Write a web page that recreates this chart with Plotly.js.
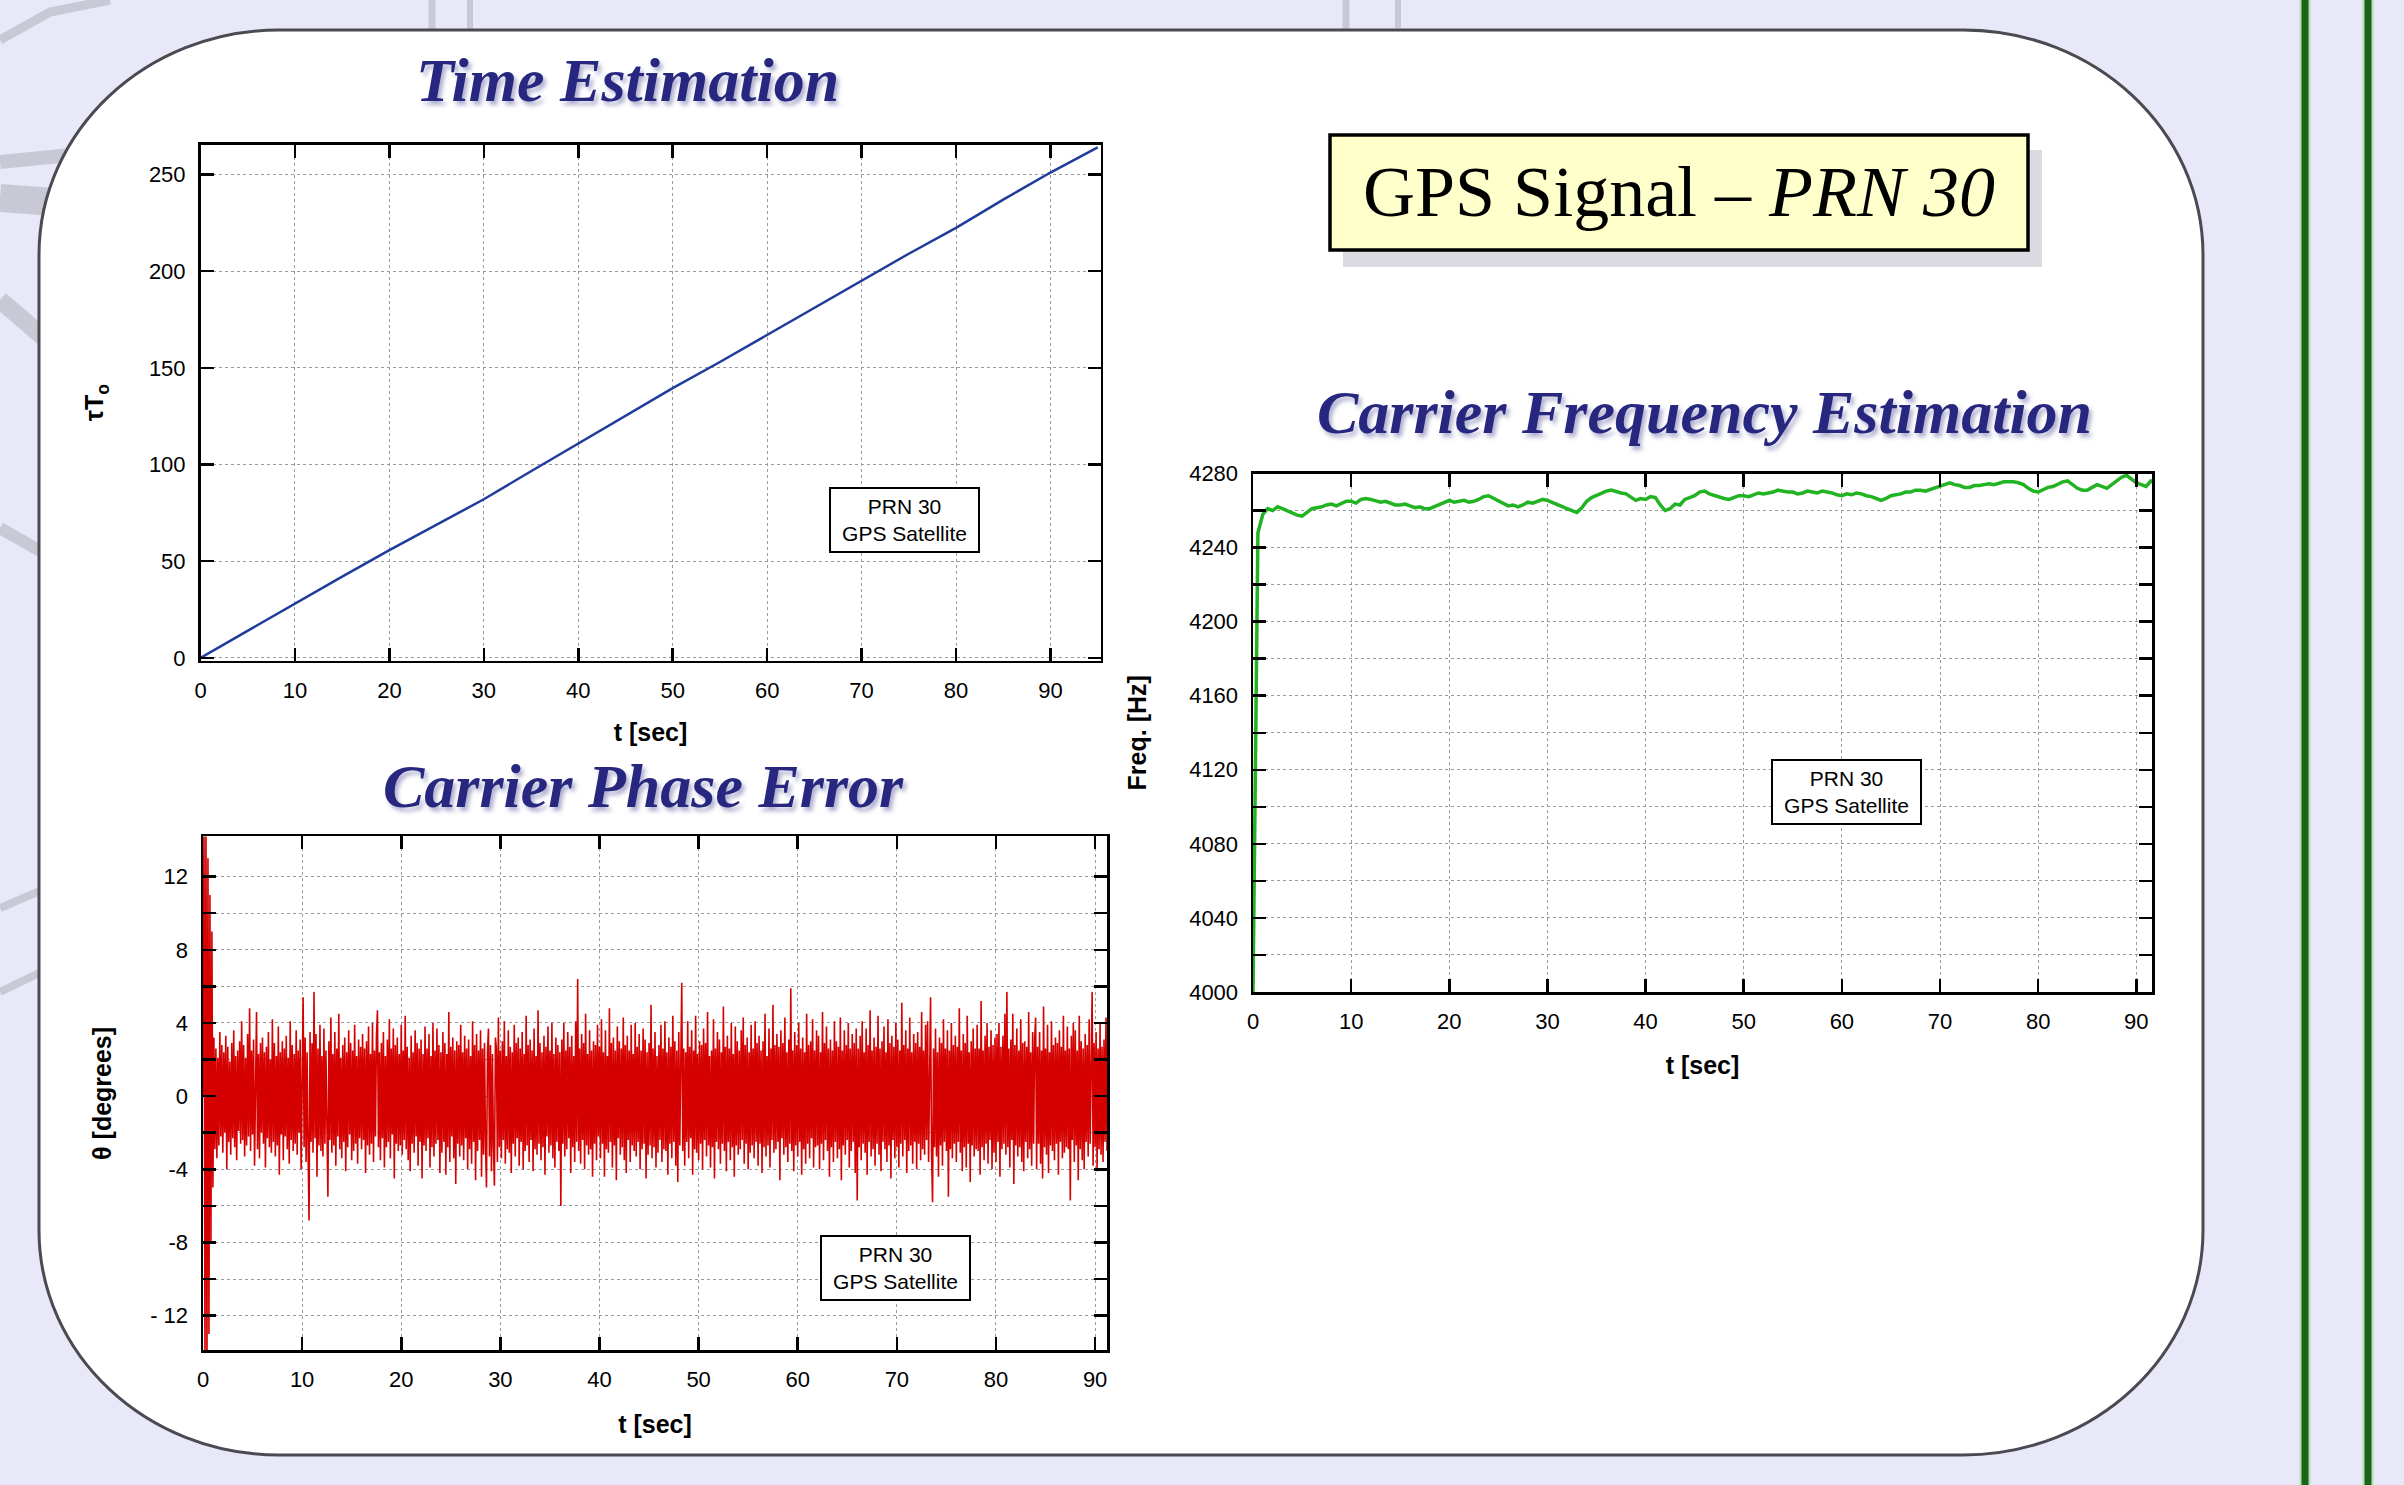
<!DOCTYPE html>
<html><head><meta charset="utf-8">
<script src="https://cdn.plot.ly/plotly-3.0.1.min.js"></script>
<style>html,body{margin:0;padding:0;background:#e8e8f9;overflow:hidden}</style>
</head><body><div id="chart" style="width:2404px;height:1485px"></div>
<script>
// ---------------- DATA ----------------
const timeT   = [0,5,10,15,20,25,30,35,40,45,50,55,60,65,70,75,80,85,90,95];
const timeTau = [0,14,28.2,42,55.7,69,82,96.5,110.9,125,139.5,153,167,181,195,209,222.4,237,251,264];

const phaseStart = 0, phaseStep = 0.1;   // sampling of the phase-error record [s]
const phaseErr = [
 0,15,-15,15,-15,13,-13,11,-8,9,-5,3.2,-2.9,2.6,-3.4,2.1,-2.7,3.5,-2.2,2.8,
 -3.1,2.4,-2.0,3.3,-4.0,2.7,-2.5,1.9,-3.2,2.9,-2.3,3.6,-2.8,2.2,-3.5,2.5,-1.9,3.0,-2.6,4.1,
 -2.4,2.8,-3.3,2.1,-2.7,3.4,-2.2,4.8,-3.0,2.5,-2.1,3.1,-3.8,2.6,4.6,-2.9,2.3,-3.4,2.9,-2.0,
 3.2,-2.6,2.4,-3.9,2.7,-2.3,3.5,-2.8,2.0,-3.1,4.2,-2.5,2.9,-3.3,2.2,-2.7,3.8,-4.3,2.4,-2.1,
 3.0,-3.5,2.6,-2.2,3.3,-2.9,2.1,-3.7,4.1,-2.4,2.8,-3.0,2.3,-2.6,3.6,-3.2,2.5,-2.0,3.1,-4.0,
 2.7,5.4,-2.8,3.2,-3.6,2.4,-2.9,-6.8,3.5,-2.5,2.9,-3.1,5.7,-2.3,3.4,-4.4,2.6,-2.7,3.9,-3.0,
 2.2,-3.3,3.7,-2.6,2.5,-2.9,-5.5,3.0,-2.4,4.3,-3.1,2.3,-2.7,3.5,-3.8,2.6,-2.2,4.5,-2.9,2.1,
 -3.4,2.8,-2.5,3.2,-4.1,2.4,-2.8,3.6,-2.1,2.9,-3.5,2.5,-3.0,3.9,-2.6,2.2,-3.7,3.1,-2.3,2.7,
 -2.9,3.4,-2.4,2.6,-4.2,3.0,-2.7,3.8,-3.2,2.3,-2.6,4.0,-3.6,2.5,-2.2,3.3,4.7,-2.8,2.4,-3.5,
 2.9,-2.3,3.5,-3.9,2.2,-2.8,3.1,-2.5,4.2,-3.4,2.6,-2.1,3.7,-4.5,2.8,-2.6,3.2,-3.0,2.3,-2.7,
 3.9,-3.2,2.5,-2.4,4.4,-2.9,2.7,-3.5,2.1,-4.1,3.3,-2.6,2.4,-3.1,3.6,-2.2,2.9,-3.8,2.6,-2.5,
 3.1,-4.5,2.3,-2.7,3.8,-3.0,2.6,-2.3,3.4,-3.9,2.2,-2.8,4.0,-3.3,2.5,-2.6,3.7,-2.4,2.8,-4.2,
 2.4,-3.1,3.5,-2.5,2.9,-4.3,2.3,-2.8,4.6,-3.6,2.7,-2.2,3.2,-3.4,2.5,-4.8,3.0,-2.6,2.8,-3.3,
 3.9,-2.7,2.4,-3.5,3.3,-2.3,2.6,-4.0,3.1,-2.9,2.2,-3.7,4.1,-2.5,2.8,-4.6,3.4,-3.0,2.5,-2.4,
 3.6,-4.4,2.6,-3.2,2.9,-2.6,-5.0,2.4,3.7,-3.3,2.8,-4.1,2.3,-2.7,-4.9,3.2,2.6,-3.6,4.3,-2.8,
 2.5,-3.4,3.0,-2.4,4.1,-3.7,2.2,-2.9,3.6,-3.1,2.7,-4.2,2.4,-2.6,3.9,-3.3,2.9,-2.3,3.2,-3.8,
 2.6,-2.5,3.5,-4.0,2.3,-3.0,4.4,-2.7,2.8,-3.6,3.1,-2.4,2.5,-4.1,3.7,-2.9,2.2,-3.2,4.7,-2.6,
 2.9,-3.5,2.4,-2.8,3.3,-4.3,2.7,-2.2,3.8,-3.1,2.5,-2.7,4.0,-3.4,2.3,-3.9,3.2,-2.5,2.8,-3.0,
 2.4,-6.0,3.1,-2.6,4.0,-3.3,2.5,-2.9,3.5,-2.3,2.7,-4.2,3.3,-2.8,2.2,-3.6,4.1,-2.5,6.4,-3.0,
 2.6,-3.7,3.4,-2.4,2.9,-4.0,4.5,-2.7,2.3,-3.2,3.6,-2.9,2.5,-4.4,3.0,-2.6,2.8,-3.5,3.9,-2.2,
 2.7,-3.4,4.2,-2.6,2.4,-4.4,3.6,-2.9,2.2,-3.1,4.8,-2.5,2.9,-3.9,3.2,-2.7,2.5,-4.6,3.8,-2.3,
 3.0,-3.2,2.6,-2.8,4.3,-3.5,2.8,-4.2,3.3,-2.4,2.5,-3.6,3.9,-2.7,2.3,-3.0,4.0,-3.3,2.7,-2.5,
 3.4,-4.0,2.5,-2.9,3.7,-2.6,3.1,-4.5,2.4,-3.2,2.9,-2.7,5.0,-3.4,2.6,-2.8,3.5,-3.9,2.2,-3.1,
 2.8,-2.4,3.9,-3.6,2.6,-2.9,4.1,-3.0,2.4,-4.3,3.2,-2.6,2.7,-3.4,4.4,-2.5,3.0,-3.8,2.5,-4.7,
 3.5,-2.7,2.9,6.2,-3.0,2.6,-3.8,2.4,-2.5,4.1,-3.4,2.7,-2.3,3.6,-4.3,2.5,-2.9,4.4,-3.1,2.3,
 -3.5,3.0,-2.6,2.8,-4.0,3.7,-2.4,2.9,-3.3,4.6,-2.7,2.2,-3.9,2.5,-2.8,4.2,-4.5,2.6,-2.5,3.5,
 -2.9,3.1,-3.7,2.4,-2.6,4.9,-3.0,2.7,-4.1,3.3,-2.5,2.6,-3.5,4.0,-2.8,2.3,-4.4,3.8,-2.7,3.0,
 -3.2,2.5,-2.9,3.6,-2.4,4.3,-3.7,2.8,-2.6,3.2,-4.0,2.4,-3.1,3.9,-2.7,2.6,-3.4,4.1,-2.5,2.9,
 -3.8,3.3,-2.6,2.5,-4.2,3.0,-2.8,4.5,-3.3,2.2,-2.7,3.7,-3.9,2.6,-2.4,5.0,-3.1,2.8,-2.9,3.4,
 -2.5,2.7,-4.6,3.6,-2.3,2.9,-3.2,4.3,-2.8,2.4,-3.6,3.1,-2.6,5.9,-3.0,2.5,-4.1,3.5,-2.7,2.8,
 -3.3,4.0,-2.5,2.6,-4.3,3.2,-2.9,2.4,-3.7,4.5,-2.6,2.8,-3.4,3.0,-2.3,4.2,-3.9,2.5,-2.8,3.6,
 -2.7,3.3,-4.0,2.4,-2.6,4.6,-3.5,2.9,-2.4,3.8,-3.0,2.6,-4.4,3.1,-2.8,2.5,-3.6,4.1,-2.5,3.0,
 -3.4,2.7,-2.9,4.3,-4.6,2.5,-2.7,3.6,-3.2,2.8,-2.4,4.0,-3.9,2.6,-3.0,3.4,-2.5,2.9,-4.2,3.7,
 -5.7,2.6,-2.8,3.3,-3.5,4.1,-2.6,2.4,-3.1,3.7,-4.3,2.8,-2.5,4.7,-3.3,2.5,-2.9,3.2,-3.8,2.7,
 -2.6,4.4,-3.2,2.6,-4.1,3.0,-2.5,3.8,-2.9,2.4,-3.6,4.2,-2.7,2.9,-4.5,3.3,-2.4,2.7,-3.4,4.0,
 -2.8,3.1,-3.9,2.5,-2.6,5.1,-3.3,2.8,-2.4,3.6,-4.2,2.6,-3.0,4.3,-2.7,2.4,-3.7,3.4,-2.5,2.9,
 -4.0,3.5,-2.6,2.7,-3.5,4.6,-2.9,2.5,-3.2,3.9,-2.4,4.1,-3.6,2.8,5.4,-3.1,-5.8,2.6,-2.8,3.7,
 -3.3,2.4,-4.4,3.2,-2.7,2.9,-3.8,4.2,-2.5,2.6,-3.0,3.6,-5.5,2.5,-2.9,4.0,-3.4,2.8,-2.6,3.3,
 -3.6,2.7,-2.5,4.8,-3.1,2.5,-4.1,3.4,-2.8,2.9,-3.9,4.4,-2.6,2.4,-4.7,3.0,-2.7,3.7,-3.3,2.6,
 -2.9,3.9,-3.0,2.6,-4.3,5.2,-2.8,2.5,-3.5,3.3,-2.6,4.0,-3.7,2.7,-2.4,3.6,-4.0,2.8,-3.1,3.2,
 -3.6,3.4,-2.5,4.0,-4.4,2.7,-2.9,3.3,-2.6,4.5,-3.2,5.7,-2.8,2.6,-3.9,3.1,-2.4,4.5,-4.8,2.8,
 -2.7,3.7,-3.3,2.5,-2.8,4.2,-3.6,2.9,-4.1,3.0,-2.5,2.7,-3.4,4.6,-2.9,2.4,-3.8,3.5,-2.6,3.1,
 4.3,-4.0,2.7,-2.6,3.5,-3.7,2.5,-4.5,4.9,-2.8,2.6,-3.2,3.9,-4.2,2.4,-2.7,4.1,-3.0,2.8,-3.5,
 3.2,-2.6,2.9,-4.3,3.6,-2.5,2.7,-3.4,4.4,-3.1,2.5,-2.8,3.8,-2.9,2.6,-5.7,3.3,-2.4,4.0,-3.6,
 3.6,-2.7,2.5,-4.6,4.4,-2.9,3.0,-3.5,2.6,-4.0,3.4,-2.5,2.8,-3.3,4.2,-2.6,2.4,5.7,-3.8,2.9,
 -2.8,3.5,-4.1,2.6,-2.9,4.0,-3.2,2.7,-3.6,3.1,-2.5,4.3,-3.0,2.8,-2.6,3.4,-3.9,2.5,-2.7,3.2
];

const freqStart = 0, freqStep = 0.5;     // sampling of the frequency estimate [s]
const freqHz = [
 4000,4248,
 4258,4261,4260,4262,4261,4260,4259,4257.5,
 4257,4259,4261,4261.5,4262,4263,4263.5,4262.5,4264,4265,
 4265,4264,4266,4266.5,4266,4265,4264.5,4265,4264,4263,
 4263,4263.5,4262.5,4261.5,4262,4261,4261,4262,4263,4264.5,
 4265.5,4264.5,4265,4265.5,4264.5,4265,4266,4267.5,4268,4266.5,
 4265,4263.5,4262.5,4263,4262,4263,4264.5,4264,4265,4266,
 4265.5,4264.5,4263,4262,4261,4260,4259,4261.5,4265,4267,
 4268,4269.5,4270.5,4271,4270,4269.5,4269,4267,4265.5,4266.5,
 4266,4267.5,4267,4263,4260,4261,4263.5,4263,4266,4267,
 4268,4270,4270.5,4269,4268,4267.5,4266.5,4266,4267,4268,
 4268,4267.5,4268.5,4269.5,4269,4269.5,4270,4271,4270.5,4270,
 4270,4269,4269.5,4270.5,4270,4269.5,4270.5,4270,4269.5,4268.5,
 4268,4269,4268.5,4269.5,4269,4268,4267.5,4266.5,4265.5,4266.5,
 4268,4268.5,4269,4270,4270,4271,4271,4270.5,4271.5,4272,
 4273,4274.5,4275,4274,4273.5,4272.5,4272.5,4273.5,4273.5,4274,
 4274.5,4274,4275,4275.5,4275.5,4275.5,4275,4274,4272,4270.5,
 4270,4271.5,4272.5,4273,4274.5,4275.5,4276,4274,4272,4271,
 4271,4272.5,4274,4273,4272,4274,4276,4278,4279,4277,
 4275,4274,4273,4276,4275
];

const xTickVals   = [0,10,20,30,40,50,60,70,80,90];
const tauTickVals = [0,50,100,150,200,250];
const phaseTickVals  = [-12,-8,-4,0,4,8,12];
const phaseTickText  = ['- 12','-8','-4','0','4','8','12'];
const phaseMinorVals = [-10,-6,-2,2,6,10];
const freqTickVals  = [4000,4040,4080,4120,4160,4200,4240,4280];
const freqMinorVals = [4020,4060,4100,4140,4180,4220,4260];

const titleTime  = 'Time Estimation';
const titlePhase = 'Carrier Phase Error';
const titleFreq  = 'Carrier Frequency Estimation';
const headline   = 'GPS Signal – <i>PRN 30</i>';
const boxText    = 'PRN 30<br>GPS Satellite';
const xLabel = 't [sec]';
const yLabelTau = 'τT<sub>o</sub>';
const yLabelPhase = 'θ [degrees]';
const yLabelFreq = 'Freq. [Hz]';

// ---------------- LAYOUT HELPERS ----------------
const W = 2404, H = 1485;
const px = x => x / W;
const py = y => 1 - y / H;

const tickFont = {family:'Liberation Sans, Arial, sans-serif', size:22, color:'#000'};
const labFont  = {family:'Liberation Sans, Arial, sans-serif', size:25, color:'#000', weight:'bold'};
const titleFont = {family:'Liberation Serif, Times New Roman, serif', size:62, color:'#27277f',
                   weight:'bold', style:'italic', shadow:'3px 4px 4px rgba(110,110,170,0.55)'};
const gridCol = '#9a9a9a';

function ax(extra){
  return Object.assign({
    showline:true, linecolor:'#000', linewidth:2.5, mirror:'allticks',
    ticks:'inside', ticklen:13, tickwidth:2.5, tickcolor:'#000',
    showgrid:true, gridcolor:gridCol, gridwidth:1, griddash:'dot',
    zeroline:false, tickfont:tickFont, ticklabelstandoff:8, fixedrange:true
  }, extra);
}
function minorTicks(vals){
  return {tickmode:'array', tickvals:vals, ticks:'inside', ticklen:13, tickwidth:2.5, tickcolor:'#000',
          showgrid:true, gridcolor:gridCol, gridwidth:1, griddash:'dot'};
}

// rounded white panel path (paper coords)
function roundedPath(x0,y0,x1,y1,rx,ry){
  const k = 0.5523;
  const P = (x,y) => px(x).toFixed(5)+','+py(y).toFixed(5);
  return 'M'+P(x0+rx,y0)+' L'+P(x1-rx,y0)+
    ' C'+P(x1-rx+k*rx,y0)+' '+P(x1,y0+ry-k*ry)+' '+P(x1,y0+ry)+
    ' L'+P(x1,y1-ry)+
    ' C'+P(x1,y1-ry+k*ry)+' '+P(x1-rx+k*rx,y1)+' '+P(x1-rx,y1)+
    ' L'+P(x0+rx,y1)+
    ' C'+P(x0+rx-k*rx,y1)+' '+P(x0,y1-ry+k*ry)+' '+P(x0,y1-ry)+
    ' L'+P(x0,y0+ry)+
    ' C'+P(x0,y0+ry-k*ry)+' '+P(x0+rx-k*rx,y0)+' '+P(x0+rx,y0)+' Z';
}
function segPath(pts){
  return pts.map((p,i)=>(i?'L':'M')+px(p[0]).toFixed(5)+','+py(p[1]).toFixed(5)).join(' ');
}
const grey = 'rgba(165,165,170,0.45)';
function greyLine(pts,w){ return {type:'path', xref:'paper', yref:'paper', layer:'below',
   path:segPath(pts), line:{color:grey, width:w}}; }

const shapes = [
  greyLine([[0,162],[120,150]],14),
  greyLine([[0,198],[120,207]],28),
  greyLine([[0,300],[70,360]],18),
  greyLine([[0,528],[70,568]],12),
  greyLine([[0,908],[70,878]],8),
  greyLine([[0,992],[70,958]],8),
  greyLine([[0,40],[50,12],[110,0]],9),
  greyLine([[432,0],[432,32]],7),
  greyLine([[470,0],[470,32]],6),
  greyLine([[1346,0],[1346,30]],7),
  greyLine([[1398,0],[1398,28]],6),
  {type:'path', xref:'paper', yref:'paper', layer:'below',
   path:roundedPath(39,30,2203,1455,240,225), fillcolor:'#ffffff', line:{color:'#4a4a52', width:3}},
  {type:'line', xref:'paper', yref:'paper', layer:'below', x0:px(2305), x1:px(2305), y0:0, y1:1, line:{color:'#b0e2b0', width:11}},
  {type:'line', xref:'paper', yref:'paper', layer:'below', x0:px(2305), x1:px(2305), y0:0, y1:1, line:{color:'#1b621b', width:7}},
  {type:'line', xref:'paper', yref:'paper', layer:'below', x0:px(2368), x1:px(2368), y0:0, y1:1, line:{color:'#b0e2b0', width:11}},
  {type:'line', xref:'paper', yref:'paper', layer:'below', x0:px(2368), x1:px(2368), y0:0, y1:1, line:{color:'#1b621b', width:7}},
  // headline box shadow + box
  {type:'rect', xref:'paper', yref:'paper', x0:px(1343), x1:px(2042), y0:py(267), y1:py(150),
   fillcolor:'rgba(150,150,165,0.35)', line:{width:0}},
  {type:'rect', xref:'paper', yref:'paper', x0:px(1330), x1:px(2028), y0:py(250), y1:py(135),
   fillcolor:'#ffffcc', line:{color:'#000', width:3.5}}
];

function boxAnn(cx,cy){
  return {xref:'paper', yref:'paper', x:px(cx), y:py(cy), xanchor:'center', yanchor:'middle',
    text:boxText, showarrow:false, align:'center',
    font:{family:'Liberation Sans, Arial, sans-serif', size:21, color:'#000'},
    bgcolor:'#ffffff', bordercolor:'#000', borderwidth:2, borderpad:3, width:141, height:56};
}
function titleAnn(txt,cx,cy){
  return {xref:'paper', yref:'paper', x:px(cx), y:py(cy), xanchor:'center', yanchor:'middle',
    text:txt, showarrow:false, font:titleFont};
}

const annotations = [
  titleAnn(titleTime, 627, 80),
  titleAnn(titlePhase, 643, 786),
  titleAnn(titleFreq, 1704, 412),
  {xref:'paper', yref:'paper', x:px(1679), y:py(192), xanchor:'center', yanchor:'middle',
   text:headline, showarrow:false,
   font:{family:'Liberation Serif, Times New Roman, serif', size:72, color:'#000'}},
  boxAnn(904,520), boxAnn(895,1268), boxAnn(1846,792)
];

const traces = [
  {x:timeT, y:timeTau, type:'scatter', mode:'lines', line:{color:'#1f3c9c', width:2.5},
   xaxis:'x', yaxis:'y', hoverinfo:'skip'},
  {x0:phaseStart, dx:phaseStep, y:phaseErr, type:'scatter', mode:'lines',
   line:{color:'#d50000', width:1.6}, xaxis:'x2', yaxis:'y2', hoverinfo:'skip'},
  {x0:freqStart, dx:freqStep, y:freqHz, type:'scatter', mode:'lines',
   line:{color:'#22b322', width:3.5}, xaxis:'x3', yaxis:'y3', hoverinfo:'skip'}
];

const layout = {
  width:W, height:H, margin:{l:0,r:0,t:0,b:0,pad:0},
  paper_bgcolor:'#e8e8f9', plot_bgcolor:'#ffffff', showlegend:false,
  xaxis: ax({domain:[px(200.5),px(1100.5)], range:[0,95.3], tickvals:xTickVals, anchor:'y',
    title:{text:xLabel, font:labFont, standoff:22}}),
  yaxis: ax({domain:[py(660.7),py(144.5)], range:[-1.5,265.5], tickvals:tauTickVals, anchor:'x',
    title:{text:yLabelTau, font:labFont, standoff:38}}),
  xaxis2: ax({domain:[px(203),px(1107)], range:[0,91.2], tickvals:xTickVals, anchor:'y2',
    title:{text:xLabel, font:labFont, standoff:24}}),
  yaxis2: ax({domain:[py(1350.4),py(836.4)], range:[-13.9,14.2], tickvals:phaseTickVals, ticktext:phaseTickText,
    minor:minorTicks(phaseMinorVals), anchor:'x2',
    title:{text:yLabelPhase, font:labFont, standoff:32}}),
  xaxis3: ax({domain:[px(1253),px(2152)], range:[0,91.6], tickvals:xTickVals, anchor:'y3',
    title:{text:xLabel, font:labFont, standoff:24}}),
  yaxis3: ax({domain:[py(992),py(473.5)], range:[4000,4280], tickvals:freqTickVals,
    minor:minorTicks(freqMinorVals), anchor:'x3',
    title:{text:yLabelFreq, font:labFont, standoff:36}}),
  shapes:shapes, annotations:annotations
};

Plotly.newPlot('chart', traces, layout, {displayModeBar:false, staticPlot:true});
</script></body></html>
